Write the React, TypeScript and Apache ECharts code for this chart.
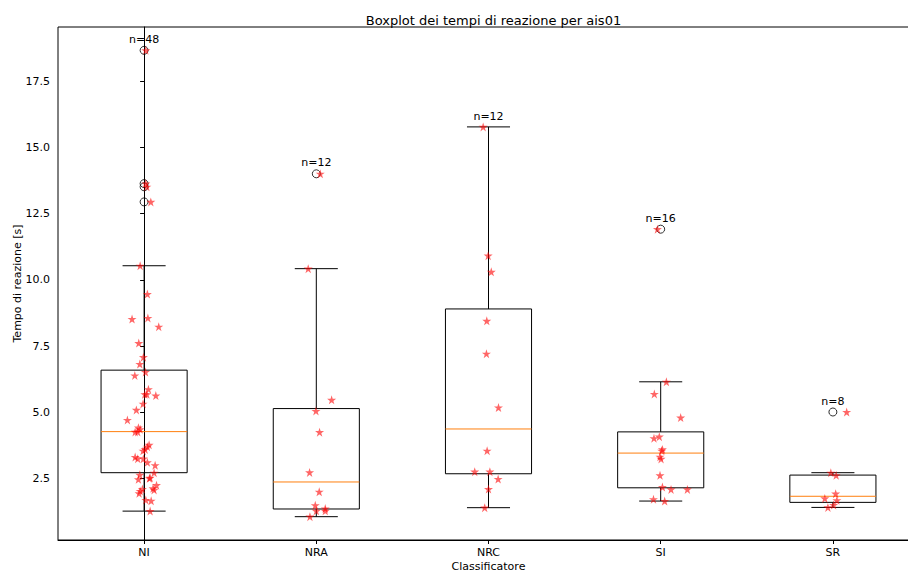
import React, { useEffect, useRef } from "react";
import * as echarts from "echarts";

const categories = ["NI", "NRA", "NRC", "SI", "SR"];

// Reaction times [s] for each classifier, with the horizontal jitter (in category units) of each point
const timesNI = [
  18.66, 13.63, 13.51, 12.94, 10.53, 9.46, 8.52, 8.56, 8.23, 7.61, 7.08, 6.82,
  6.39, 6.52, 5.87, 5.68, 5.68, 5.63, 5.32, 5.09, 4.71, 4.42, 4.36, 4.26,
  4.26, 3.77, 3.7, 3.6, 3.55, 3.31, 3.25, 3.25, 3.11, 3.0, 2.72, 2.64,
  2.53, 2.47, 2.51, 2.25, 2.1, 2.13, 2.07, 1.94, 2.03, 1.69, 1.66, 1.27,
];
const jitterNI = [
  0.01, 0.01, 0.016, 0.039, -0.023, 0.019, -0.07, 0.022, 0.085, -0.031, -0.004, -0.025,
  -0.054, 0.008, 0.025, 0.004, 0.016, 0.068, -0.006, -0.045, -0.097, -0.033, -0.023, -0.052,
  -0.037, 0.029, 0.019, 0.006, -0.006, -0.052, -0.037, -0.004, 0.019, 0.064, 0.058, -0.025,
  0.035, -0.033, 0.031, 0.072, -0.01, 0.052, 0.058, -0.029, -0.023, 0.01, 0.041, 0.035,
];
const timesNRA = [14.0, 10.42, 5.47, 5.05, 4.25, 2.73, 2.0, 1.49, 1.28, 1.37, 1.28, 1.06];
const jitterNRA = [0.023, -0.047, 0.089, -0.002, 0.019, -0.039, 0.017, -0.006, 0.0, 0.052, 0.052, -0.037];
const timesNRC = [15.77, 10.91, 10.3, 8.45, 7.21, 5.18, 3.55, 2.76, 2.76, 2.48, 2.1, 1.4];
const jitterNRC = [-0.031, -0.002, 0.016, -0.01, -0.012, 0.058, -0.008, -0.08, 0.008, 0.056, 0.0, -0.022];
const timesSI = [11.91, 6.15, 5.69, 4.8, 4.02, 4.08, 3.6, 3.55, 3.32, 3.24, 2.62, 2.18, 2.09, 2.09, 1.72, 1.65];
const jitterSI = [-0.019, 0.033, -0.037, 0.116, -0.039, -0.008, 0.01, 0.006, -0.004, 0.002, -0.004, 0.01, 0.06, 0.155, -0.042, 0.023];
const timesSR = [5.01, 2.72, 2.62, 1.93, 1.75, 1.68, 1.5, 1.41];
const jitterSR = [0.08, -0.012, 0.019, 0.016, -0.047, 0.023, 0.004, -0.029];

// Box statistics: [lower whisker, Q1, median, Q3, upper whisker]
const boxNI = [1.27, 2.72, 4.27, 6.59, 10.53];
const boxNRA = [1.06, 1.35, 2.37, 5.14, 10.42];
const boxNRC = [1.4, 2.68, 4.37, 8.9, 15.77];
const boxSI = [1.65, 2.15, 3.46, 4.26, 6.15];
const boxSR = [1.41, 1.6, 1.83, 2.63, 2.72];

const yTicks = [2.5, 5.0, 7.5, 10.0, 12.5, 15.0, 17.5];
const xTicks = [0, 1, 2, 3, 4];

const times = [timesNI, timesNRA, timesNRC, timesSI, timesSR];
const jitters = [jitterNI, jitterNRA, jitterNRC, jitterSI, jitterSR];
const boxes = [boxNI, boxNRA, boxNRC, boxSI, boxSR];

const BOX_WIDTH = 0.5;
const CAP_WIDTH = 0.25;
const STAR_PATH =
  "path://M0,-1L0.2245,-0.309L0.951,-0.309L0.363,0.118L0.588,0.809L0,0.382L-0.588,0.809L-0.363,0.118L-0.951,-0.309L-0.2245,-0.309Z";

export default function App() {
  const ref = useRef<HTMLDivElement>(null);

  useEffect(() => {
    if (!ref.current) return;
    const chart = echarts.init(ref.current, undefined, { renderer: "svg" });

    const all = times.flat();
    const dMin = Math.min(...all);
    const dMax = Math.max(...all);
    const pad = (dMax - dMin) * 0.05;

    const boxData = boxes.map((b, i) => [i, ...b]);
    const outliers: number[][] = [];
    times.forEach((arr, i) => {
      arr.forEach((v) => {
        if (v > boxes[i][4] || v < boxes[i][0]) outliers.push([i, v]);
      });
    });
    const stars: number[][] = [];
    times.forEach((arr, i) => {
      arr.forEach((v, k) => stars.push([i + jitters[i][k], v]));
    });
    const countData = times.map((arr, i) => [i, Math.max(...arr) + 0.2, arr.length]);

    const font = "DejaVu Sans";

    chart.setOption({
      animation: false,
      backgroundColor: "#fff",
      textStyle: { fontFamily: font },
      title: {
        text: "Boxplot dei tempi di reazione per ais01",
        left: 488.5,
        top: 9,
        textAlign: "center",
        textStyle: { fontFamily: font, fontSize: 13, fontWeight: "normal", color: "#000" },
      },
      grid: {
        left: 58,
        right: -11,
        top: 27,
        bottom: 33,
        outerBoundsMode: "none",
        containLabel: false,
        show: true,
        borderColor: "#000",
        borderWidth: 1,
        backgroundColor: "transparent",
      },
      xAxis: {
        type: "value",
        min: -0.5,
        max: 4.5,
        name: "Classificatore",
        nameLocation: "middle",
        nameGap: 21,
        nameMoveOverlap: false,
        nameTextStyle: { fontFamily: font, fontSize: 11, color: "#000" },
        splitLine: { show: false },
        axisLine: { show: true, lineStyle: { color: "#000", width: 1 } },
        axisTick: { show: true, length: 4, customValues: xTicks, lineStyle: { color: "#000" } },
        axisLabel: {
          customValues: xTicks,
          margin: 7,
          fontSize: 11,
          color: "#000",
          fontFamily: font,
          formatter: (v: number) => categories[Math.round(v)] ?? "",
        },
      },
      yAxis: {
        type: "value",
        min: dMin - pad,
        max: dMax + pad,
        name: "Tempo di reazione [s]",
        nameLocation: "middle",
        nameGap: 35,
        nameMoveOverlap: false,
        nameTextStyle: { fontFamily: font, fontSize: 11, color: "#000" },
        splitLine: { show: false },
        axisLine: { show: true, lineStyle: { color: "#000", width: 1 } },
        axisTick: { show: true, length: 4, customValues: yTicks, lineStyle: { color: "#000" } },
        axisLabel: {
          customValues: yTicks,
          margin: 8,
          fontSize: 11,
          color: "#000",
          fontFamily: font,
          formatter: (v: number) => v.toFixed(1),
        },
      },
      series: [
        {
          type: "custom",
          name: "box",
          data: boxData,
          encode: { x: 0, y: [1, 2, 3, 4, 5] },
          z: 2,
          renderItem: (_params: any, api: any) => {
            const x = api.value(0);
            const ys = [1, 2, 3, 4, 5].map((d) => api.coord([x, api.value(d)])[1]);
            const [yLo, yQ1, yMed, yQ3, yHi] = ys;
            const cx = api.coord([x, api.value(1)])[0];
            const hb = api.size([BOX_WIDTH, 0])[0] / 2;
            const hc = api.size([CAP_WIDTH, 0])[0] / 2;
            const st = { stroke: "#000", lineWidth: 1, fill: "none" };
            return {
              type: "group",
              children: [
                { type: "line", shape: { x1: cx, y1: yQ1, x2: cx, y2: yLo }, style: st },
                { type: "line", shape: { x1: cx, y1: yQ3, x2: cx, y2: yHi }, style: st },
                { type: "line", shape: { x1: cx - hc, y1: yLo, x2: cx + hc, y2: yLo }, style: st },
                { type: "line", shape: { x1: cx - hc, y1: yHi, x2: cx + hc, y2: yHi }, style: st },
                {
                  type: "rect",
                  shape: { x: cx - hb, y: yQ3, width: 2 * hb, height: yQ1 - yQ3 },
                  style: st,
                },
                {
                  type: "line",
                  shape: { x1: cx - hb, y1: yMed, x2: cx + hb, y2: yMed },
                  style: { stroke: "#ff7f0e", lineWidth: 1 },
                },
              ],
            };
          },
        },
        {
          type: "scatter",
          name: "outliers",
          data: outliers,
          symbol: "circle",
          symbolSize: 8,
          z: 3,
          itemStyle: { color: "rgba(0,0,0,0)", borderColor: "#000", borderWidth: 1 },
        },
        {
          type: "scatter",
          name: "tempi",
          data: stars,
          symbol: STAR_PATH,
          symbolSize: 9,
          z: 4,
          itemStyle: { color: "rgba(255,0,0,0.75)" },
        },
        {
          type: "custom",
          name: "conteggi",
          data: countData,
          encode: { x: 0, y: 1 },
          z: 5,
          renderItem: (_params: any, api: any) => {
            const p = api.coord([api.value(0), api.value(1)]);
            return {
              type: "text",
              x: p[0],
              y: p[1],
              style: {
                text: "n=" + api.value(2),
                textAlign: "center",
                textVerticalAlign: "bottom",
                fontFamily: font,
                fontSize: 11,
                fill: "#000",
              },
            };
          },
        },
      ],
    });

    return () => chart.dispose();
  }, []);

  return (
    <div
      ref={ref}
      style={{ position: "fixed", left: 0, top: 0, width: 908, height: 573, background: "#fff" }}
    />
  );
}
